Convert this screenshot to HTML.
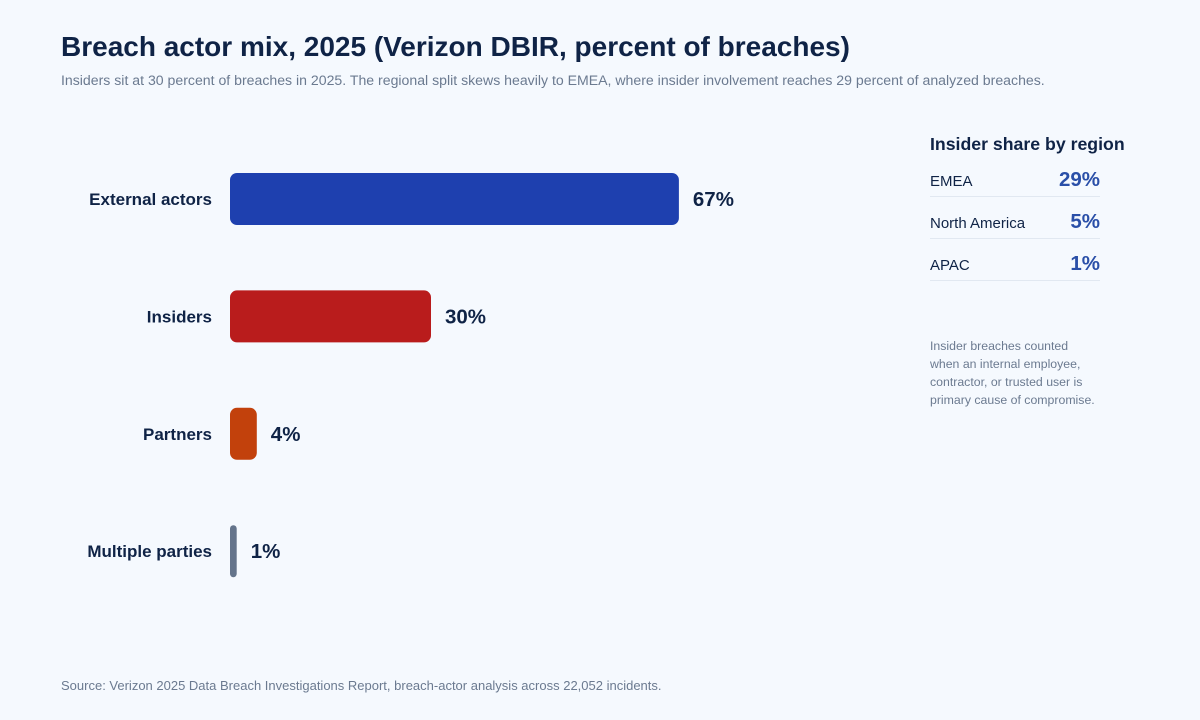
<!DOCTYPE html>
<html><head><meta charset="utf-8"><style>
body{margin:0;background:#f5f9fe;font-family:"Liberation Sans",sans-serif;}
#wrap{position:relative;width:1200px;height:720px;overflow:hidden;background:#f5f9fe;}
.abs{position:absolute;white-space:nowrap;}
</style></head><body>
<div id="wrap">
<div class="abs" style="left:61px;top:31px;font-size:28px;font-weight:bold;color:#0f2346;">Breach actor mix, 2025 (Verizon DBIR, percent of breaches)</div>
<div class="abs" style="left:61px;top:72px;font-size:14.1px;color:#6b7a90;">Insiders sit at 30 percent of breaches in 2025. The regional split skews heavily to EMEA, where insider involvement reaches 29 percent of analyzed breaches.</div>
<svg id="chart" width="900" height="640" style="position:absolute;left:0;top:0;"></svg>
<div class="abs" style="left:930px;top:134px;font-size:17.7px;font-weight:bold;color:#0f2346;">Insider share by region</div>
<div id="rows"></div>
<div class="abs" style="left:930px;top:337px;font-size:12.3px;line-height:18px;color:#6b7a90;">Insider breaches counted<br>when an internal employee,<br>contractor, or trusted user is<br>primary cause of compromise.</div>
<div class="abs" style="left:61px;top:678px;font-size:13px;color:#6b7a90;">Source: Verizon 2025 Data Breach Investigations Report, breach-actor analysis across 22,052 incidents.</div>
</div>
<script>
const categories=["External actors","Insiders","Partners","Multiple parties"];
const values=[67,30,4,1];
const colors=["#1e40af","#b91c1c","#c2410c","#64748b"];
const regions=["EMEA","North America","APAC"];
const regionValues=[29,5,1];

const NS="http://www.w3.org/2000/svg";
const svg=document.getElementById('chart');
const x0=230, pxPer=6.7;
const xScale=v=>v*pxPer;
const yCenter=i=>199+i*117.4;
const barH=52;
categories.forEach((c,i)=>{
  const w=Math.max(xScale(values[i]),6);
  const r=document.createElementNS(NS,'rect');
  r.setAttribute('x',x0);r.setAttribute('y',yCenter(i)-barH/2);
  r.setAttribute('width',w);r.setAttribute('height',barH);
  r.setAttribute('rx',Math.min(7,w/2));r.setAttribute('fill',colors[i]);
  
  
  svg.appendChild(r);
  const t=document.createElementNS(NS,'text');
  t.setAttribute('x',212);t.setAttribute('y',yCenter(i)+6);
  t.setAttribute('text-anchor','end');t.setAttribute('font-size','17');
  t.setAttribute('font-weight','bold');t.setAttribute('fill','#0f2346');
  t.textContent=c;
  
  
  svg.appendChild(t);
  const v=document.createElementNS(NS,'text');
  v.setAttribute('x',x0+w+14);v.setAttribute('y',yCenter(i)+7);
  v.setAttribute('font-size','20.5');v.setAttribute('font-weight','bold');v.setAttribute('fill','#0f2346');
  v.textContent=values[i]+'%';
  
  
  svg.appendChild(v);
});
const rows=document.getElementById('rows');
regions.forEach((r,i)=>{
  const d=document.createElement('div');
  d.style.cssText='position:absolute;left:930px;width:170px;height:36px;border-bottom:1.5px solid #e1e8f1;top:'+(160+i*42)+'px;';
  
  
  d.innerHTML='<span style="position:absolute;left:0;top:13px;font-size:15px;color:#0f2346;">'+r+'</span><span style="position:absolute;right:0;top:8px;font-size:20.5px;font-weight:bold;color:#2a4fa8;">'+regionValues[i]+'%</span>';
  rows.appendChild(d);
});
</script>
</body></html>
